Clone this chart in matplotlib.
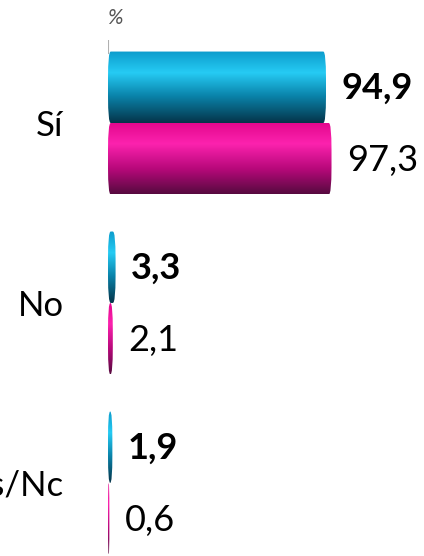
import numpy as np
import matplotlib.pyplot as plt
from matplotlib.colors import LinearSegmentedColormap
from matplotlib.patches import FancyBboxPatch

plt.rcParams['font.family'] = ['Lato', 'DejaVu Sans']

# data
categories = ['Sí', 'No', 'Ns/Nc']
serie_a = [94.9, 3.3, 1.9]   # blue, bold labels
serie_b = [97.3, 2.1, 0.6]   # pink

# gradients (top -> bottom) to fake the 3D cylinders
cmap_blue = LinearSegmentedColormap.from_list(
  'azul', [(0, '#0c9ccc'), (0.3, '#26cbf4'), (0.62, '#0a84ab'), (1, '#053449')])
cmap_pink = LinearSegmentedColormap.from_list(
  'rosa', [(0, '#e2078c'), (0.3, '#fc22ae'), (0.65, '#b7087a'), (1, '#560a3f')])

bar_h = 0.397
grad = np.linspace(0, 1, 256)[:, None]


def cylinder_bar(ax, y0, value, cmap):
  # y0 = visually top edge of the bar (axis is inverted)
  dr = min(1.2, value / 2)
  yr = 0.15
  box = FancyBboxPatch((0, y0), value, bar_h,
                       boxstyle=f"round,pad=0,rounding_size={dr}",
                       mutation_aspect=yr / dr,
                       facecolor='none', edgecolor='none')
  ax.add_patch(box)
  im = ax.imshow(grad, cmap=cmap, aspect='auto', origin='upper',
                 extent=(0, value, y0 + bar_h, y0), interpolation='bilinear')
  im.set_clip_path(box)


fig = plt.figure(figsize=(4.24, 5.56), dpi=100)
ax = fig.add_axes([0.2547, 0.0, 0.5418, 0.928])

for i, (a, b) in enumerate(zip(serie_a, serie_b)):
  cylinder_bar(ax, i - bar_h, a, cmap_blue)
  cylinder_bar(ax, i, b, cmap_pink)
  ax.annotate(f"{a:.1f}".replace('.', ','), xy=(a, i - bar_h / 2),
              xytext=(11, -1), textcoords='offset points',
              ha='left', va='center', fontsize=26, fontweight='bold', color='black')
  ax.annotate(f"{b:.1f}".replace('.', ','), xy=(b, i + bar_h / 2),
              xytext=(11, -1), textcoords='offset points',
              ha='left', va='center', fontsize=26, color='black')

ax.set_xlim(0, 100)
ax.set_ylim(2.406, -0.461)

ax.set_yticks(range(len(categories)))
ax.set_yticklabels(categories, fontsize=25)
ax.tick_params(axis='y', length=0, pad=32)
ax.set_xticks([])
for s in ax.spines.values():
  s.set_visible(False)

# little grey axis stub above the first bar
ax.axvline(0, ymin=0.975, ymax=1, color='#b0b0b0', lw=1.5)
ax.annotate('%', xy=(0, 1), xycoords='axes fraction', xytext=(-1, 16),
            textcoords='offset points', ha='left', va='center',
            fontsize=15, style='italic', color='#555555')

fig.savefig('out.png', dpi=100)
